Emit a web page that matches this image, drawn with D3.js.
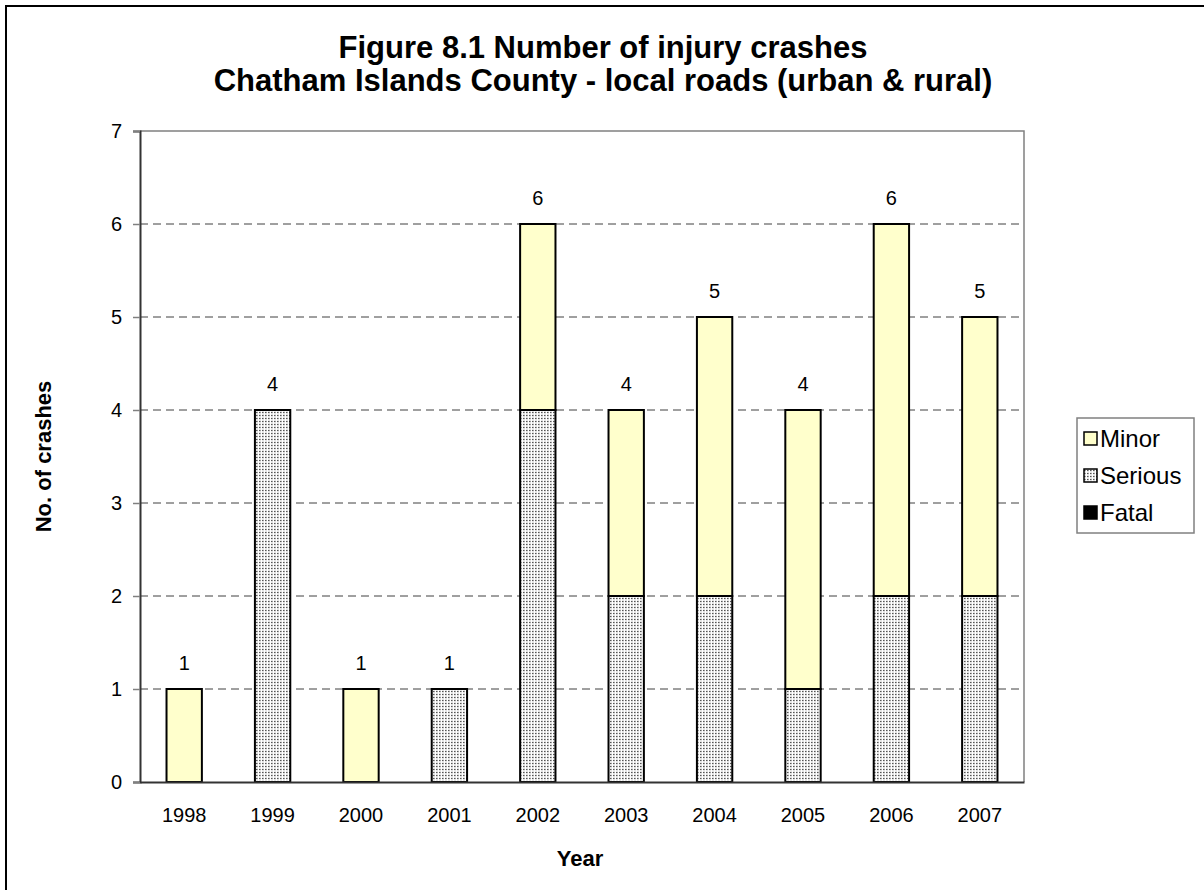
<!DOCTYPE html>
<html>
<head>
<meta charset="utf-8">
<script src="https://cdn.jsdelivr.net/npm/d3@7"></script>
<style>
  html, body { margin: 0; padding: 0; background: #fff; }
  svg { display: block; font-family: Arial, "Liberation Sans", sans-serif; }
</style>
</head>
<body>
<svg id="chart" width="1204" height="890"></svg>
<script>
// Injury crash counts by year and severity
const years   = ["1998", "1999", "2000", "2001", "2002", "2003", "2004", "2005", "2006", "2007"];
const fatal   = [0, 0, 0, 0, 0, 0, 0, 0, 0, 0];
const serious = [0, 4, 0, 1, 4, 2, 2, 1, 2, 2];
const minor   = [1, 0, 1, 0, 2, 2, 3, 3, 4, 3];
const totals  = [1, 4, 1, 1, 6, 4, 5, 4, 6, 5];
const yTicks  = [0, 1, 2, 3, 4, 5, 6, 7];
const seriesNames = ["Fatal", "Serious", "Minor"];

const FONT = "Arial, 'Liberation Sans', sans-serif";
const svg = d3.select("#chart");

// Outer chart frame (left and top edges)
svg.append("path")
  .attr("d", "M6,890 V6 H1204")
  .attr("fill", "none").attr("stroke", "#000").attr("stroke-width", 2);

// Dotted fill used for the "Serious" series
const defs = svg.append("defs");
const pat = defs.append("pattern")
  .attr("id", "dots").attr("patternUnits", "userSpaceOnUse")
  .attr("width", 3).attr("height", 3);
pat.append("rect").attr("width", 3).attr("height", 3).attr("fill", "#e4e4e4");
pat.append("rect").attr("x", 0).attr("y", 0).attr("width", 1).attr("height", 3).attr("fill", "#ffffff");
pat.append("rect").attr("x", 1).attr("y", 1).attr("width", 1).attr("height", 1).attr("fill", "#555555");
pat.append("rect").attr("x", 2).attr("y", 1).attr("width", 1).attr("height", 1).attr("fill", "#999999");

const fills = { Fatal: "#000000", Serious: "url(#dots)", Minor: "#ffffcc" };

// Plot area
const plot = { left: 140, right: 1024, top: 131, bottom: 782 };

const x = d3.scaleBand().domain(years).range([plot.left, plot.right]).paddingInner(0.6).paddingOuter(0.3);
const y = d3.scaleLinear().domain([0, 7]).range([plot.bottom, plot.top]);

// Title
const title = svg.append("text")
  .attr("text-anchor", "middle")
  .attr("font-size", 31).attr("font-weight", "bold").attr("fill", "#000");
title.append("tspan").attr("x", 603).attr("y", 58).text("Figure 8.1 Number of injury crashes");
title.append("tspan").attr("x", 603).attr("y", 91).text("Chatham Islands County - local roads (urban & rural)");

// Gridlines
svg.append("g")
  .selectAll("line")
  .data(yTicks.filter(d => d > 0 && d < 7))
  .join("line")
  .attr("x1", plot.left).attr("x2", plot.right)
  .attr("y1", d => y(d)).attr("y2", d => y(d))
  .attr("stroke", "#404040").attr("stroke-width", 1)
  .attr("stroke-dasharray", "8,5");

// Plot area border (top and right)
svg.append("path")
  .attr("d", `M${plot.left},${y(7)} H${plot.right} V${plot.bottom}`)
  .attr("fill", "none").attr("stroke", "#808080").attr("stroke-width", 1.5);

// Stacked bars
const rows = years.map((yr, i) => ({ year: yr, Fatal: fatal[i], Serious: serious[i], Minor: minor[i] }));
const stacked = d3.stack().keys(seriesNames)(rows);

svg.append("g")
  .selectAll("g")
  .data(stacked)
  .join("g")
  .attr("fill", d => fills[d.key])
  .selectAll("rect")
  .data(d => d.filter(s => s[1] - s[0] > 0))
  .join("rect")
  .attr("x", d => x(d.data.year))
  .attr("width", x.bandwidth())
  .attr("y", d => y(d[1]))
  .attr("height", d => y(d[0]) - y(d[1]))
  .attr("stroke", "#000").attr("stroke-width", 2);

// Value labels above bars
svg.append("g")
  .selectAll("text")
  .data(years)
  .join("text")
  .attr("x", d => x(d) + x.bandwidth() / 2)
  .attr("y", (d, i) => y(totals[i]) - 19)
  .attr("text-anchor", "middle")
  .attr("font-size", 20).attr("fill", "#000")
  .text((d, i) => totals[i]);

// Y axis
const yAxis = svg.append("g")
  .attr("transform", `translate(${plot.left},0)`)
  .call(d3.axisLeft(y).tickValues(yTicks).tickFormat(d3.format("d")).tickSize(7).tickPadding(11));
yAxis.select(".domain").attr("stroke", "#333").attr("stroke-width", 2);
yAxis.selectAll(".tick line").attr("stroke", "#808080").attr("stroke-width", 1.5);
yAxis.selectAll(".tick text").attr("font-size", 20).attr("fill", "#000").attr("font-family", FONT);

// X axis
const xAxis = svg.append("g")
  .attr("transform", `translate(0,${plot.bottom})`)
  .call(d3.axisBottom(x).tickSize(0).tickPadding(26));
xAxis.select(".domain").attr("stroke", "#333").attr("stroke-width", 2);
xAxis.selectAll(".tick text").attr("font-size", 20).attr("fill", "#000").attr("font-family", FONT);

// Axis titles
svg.append("text")
  .attr("x", plot.left + (plot.right - plot.left) / 2 - 2).attr("y", 866)
  .attr("text-anchor", "middle").attr("font-size", 22).attr("font-weight", "bold")
  .text("Year");
svg.append("text")
  .attr("transform", `translate(51,${(plot.top + plot.bottom) / 2}) rotate(-90)`)
  .attr("text-anchor", "middle").attr("font-size", 22).attr("font-weight", "bold")
  .text("No. of crashes");

// Legend
const legendItems = ["Minor", "Serious", "Fatal"];
const lg = svg.append("g").attr("transform", "translate(1077,418)");
lg.append("rect").attr("width", 117).attr("height", 115)
  .attr("fill", "#fff").attr("stroke", "#808080").attr("stroke-width", 1.5);
const li = lg.selectAll("g.item").data(legendItems).join("g")
  .attr("class", "item")
  .attr("transform", (d, i) => `translate(0,${20 + i * 37})`);
li.append("rect").attr("x", 7).attr("y", -6).attr("width", 13).attr("height", 13)
  .attr("fill", d => fills[d]).attr("stroke", "#000").attr("stroke-width", 1.5);
li.append("text").attr("x", 23).attr("y", 9).attr("font-size", 24).attr("fill", "#000")
  .text(d => d);
</script>
</body>
</html>
